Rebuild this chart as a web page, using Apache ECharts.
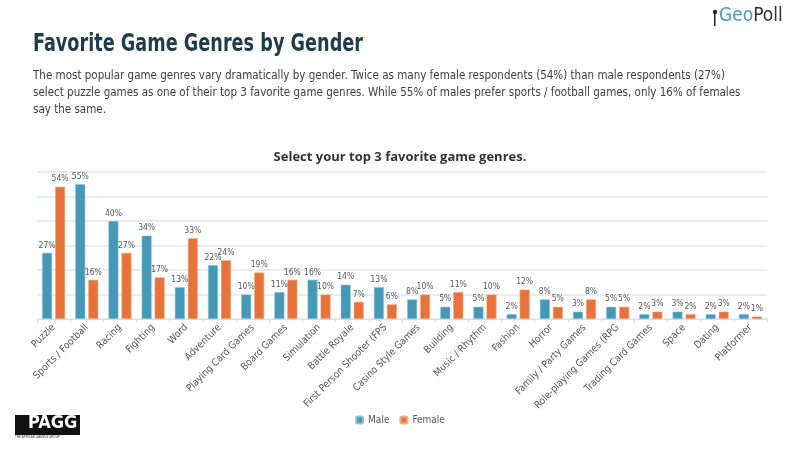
<!DOCTYPE html>
<html><head><meta charset="utf-8">
<script src="https://cdn.jsdelivr.net/npm/echarts@6/dist/echarts.min.js"></script>
<style>html,body{margin:0;padding:0;background:#fff}#c{width:800px;height:450px}</style>
</head><body><div id="c"></div>
<script>
const categories = ["Puzzle","Sports / Football","Racing","Fighting","Word","Adventure","Playing Card Games","Board Games","Simulation","Battle Royale","First Person Shooter (FPS","Casino Style Games","Building","Music / Rhythm","Fashion","Horror","Family / Party Games","Role-playing Games (RPG","Trading Card Games","Space","Dating","Platformer"];
const male = [27,55,40,34,13,22,10,11,16,14,13,8,5,5,2,8,3,5,2,3,2,2];
const female = [54,16,27,17,33,24,19,16,10,7,6,10,11,10,12,5,8,5,3,2,3,1];
const yTicks = [0,10,20,30,40,50,60];

const narrow = '"DejaVu Sans Condensed","Liberation Sans Narrow","Open Sans",sans-serif';
const titleText = 'Favorite Game Genres by Gender';
const bodyLines = ['The most popular game genres vary dramatically by gender. Twice as many female respondents (54%) than male respondents (27%)',
  'select puzzle games as one of their top 3 favorite game genres. While 55% of males prefer sports / football games, only 16% of females',
  'say the same.'];

const cv = document.createElement('canvas').getContext('2d');
function fitScale(text, font, target){
  cv.font = font;
  return target / cv.measureText(text).width;
}
const titleFont = 'bold 25px ' + narrow;
const bodyFont = '13px ' + narrow;
const titleScale = fitScale(titleText, titleFont, 330);
const bodyScale = fitScale(bodyLines[0], bodyFont, 692);

const chart = echarts.init(document.getElementById('c'));
const lbl = {show:true, position:'top', formatter:'{c}%', fontSize:8.5, color:'#595959', fontFamily:narrow, distance:3};
chart.setOption({
  animation:false,
  textStyle:{fontFamily:narrow},
  title:{text:'Select your top 3 favorite game genres.', left:'center', top:146,
    textStyle:{fontSize:13, fontWeight:'bold', color:'#333', fontFamily:'"Open Sans",sans-serif'}},
  legend:{bottom:20, left:'center', itemWidth:7, itemHeight:7, itemGap:10,
    textStyle:{fontSize:10, color:'#595959', fontFamily:narrow}, data:['Male','Female']},
  grid:{left:37, right:33, top:172, bottom:131},
  xAxis:{type:'category', data:categories,
    axisLine:{lineStyle:{color:'#D5E3EA'}},
    axisTick:{show:true, length:3, lineStyle:{color:'#D5E3EA'}},
    axisLabel:{rotate:45, fontSize:10, color:'#595959', interval:0, margin:7, fontFamily:narrow}},
  yAxis:{type:'value', min:yTicks[0], max:yTicks[yTicks.length-1], interval:10,
    axisLabel:{show:false}, axisLine:{show:false}, axisTick:{show:false},
    splitLine:{lineStyle:{color:'#DCE9EF', width:1.5}}},
  series:[
    {name:'Male', type:'bar', data:male, barWidth:10, barGap:'30%',
      itemStyle:{color:'#4599B6', borderColor:'#8EC3D6', borderWidth:0.6}, label:lbl},
    {name:'Female', type:'bar', data:female, barWidth:10,
      itemStyle:{color:'#E8733A', borderColor:'#F2AC87', borderWidth:0.6}, label:lbl}
  ],
  graphic:[
    {type:'text', x:33, y:32, scaleX:titleScale, style:{text:titleText, font:titleFont, fill:'#1E3D4C'}},
    {type:'text', x:33, y:67, scaleX:bodyScale, style:{text:bodyLines.join('\n'), font:bodyFont, fill:'#404040', lineHeight:17}},
    {type:'text', left:719, top:7, style:{rich:{a:{fontSize:19, fill:'#4A9CC7', fontFamily:narrow}, b:{fontSize:19, fill:'#333', fontFamily:narrow}}, text:'{a|Geo}{b|Poll}'}},
    {type:'rect', shape:{x:714, y:12, width:1.5, height:14}, style:{fill:'#222'}},
    {type:'circle', shape:{cx:715, cy:12, r:2.2}, style:{fill:'#222'}},
    {type:'rect', shape:{x:15, y:415, width:65, height:20}, style:{fill:'#111'}},
    {type:'text', left:28, top:414, style:{text:'PAGG', font:'bold 18px '+narrow, fill:'#fff'}},
    {type:'text', left:15, top:436, style:{text:'THE AFRICAN GAMING GROUP', font:'3px sans-serif', fill:'#333'}}
  ]
});
</script></body></html>
